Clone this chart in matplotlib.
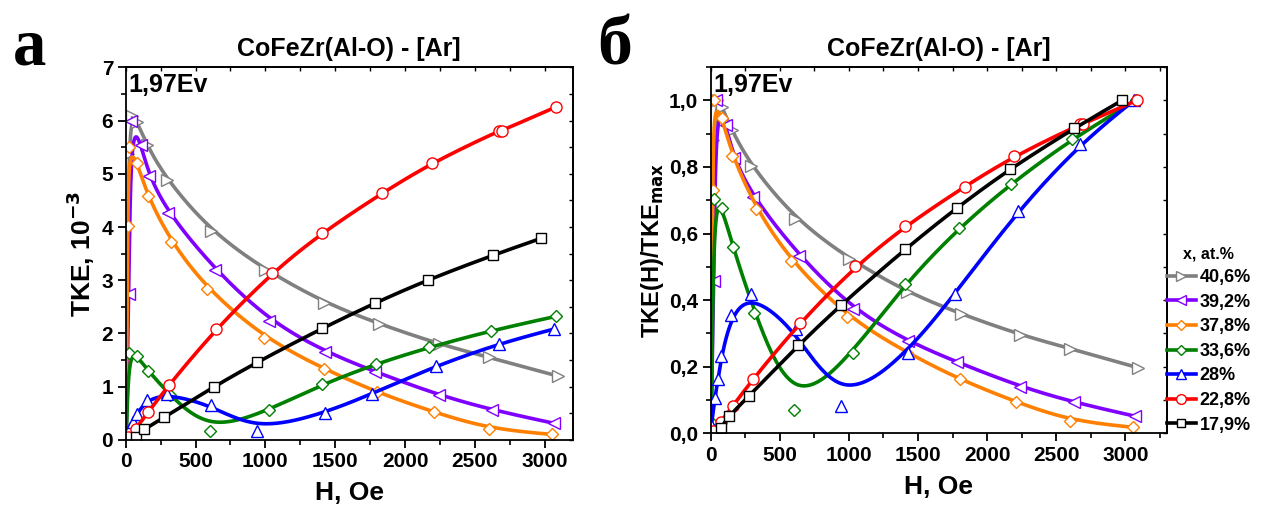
import numpy as np
import matplotlib
matplotlib.use("Agg")
import matplotlib.pyplot as plt
from matplotlib.ticker import MultipleLocator, FuncFormatter

# ---------------- data (TKE, 10^-3 vs H, Oe) ----------------
labels = ["40,6%", "39,2%", "37,8%", "33,6%", "28%", "22,8%", "17,9%"]

H_406 = [3, 19, 45, 84, 152, 293, 610, 1000, 1420, 1813, 2240, 2601, 3091]
T_406 = [0.05, 5.37, 6.09, 5.97, 5.54, 4.89, 3.92, 3.19, 2.58, 2.18, 1.80, 1.55, 1.20]

H_392 = [3, 22, 38, 110, 168, 305, 638, 1027, 1424, 1784, 2240, 2625, 3067]
T_392 = [0.05, 2.75, 6.00, 5.55, 4.96, 4.26, 3.20, 2.24, 1.66, 1.28, 0.84, 0.56, 0.31]

H_378 = [3, 15, 22, 83, 157, 328, 582, 988, 1420, 1800, 2205, 2597, 3053]
T_378 = [0.05, 4.02, 5.50, 5.21, 4.58, 3.71, 2.84, 1.92, 1.33, 0.89, 0.52, 0.21, 0.10]

H_336 = [5, 22, 83, 161, 316, 601, 1028, 1404, 1794, 2173, 2612, 3078]
T_336 = [0.08, 1.63, 1.57, 1.30, 0.84, 0.16, 0.56, 1.04, 1.43, 1.74, 2.05, 2.32]

H_280 = [5, 30, 54, 78, 150, 293, 614, 940, 1424, 1765, 2221, 2675, 3063]
T_280 = [0.05, 0.22, 0.34, 0.48, 0.74, 0.87, 0.65, 0.17, 0.50, 0.87, 1.39, 1.81, 2.08]

H_228 = [20, 73, 161, 309, 644, 1047, 1404, 1836, 2193, 2672, 2691, 3082]
T_228 = [0.05, 0.21, 0.52, 1.03, 2.08, 3.14, 3.89, 4.64, 5.21, 5.81, 5.81, 6.26]

H_179 = [73, 133, 275, 632, 940, 1408, 1782, 2163, 2627, 2976]
T_179 = [0.06, 0.20, 0.42, 1.00, 1.46, 2.10, 2.57, 3.01, 3.47, 3.79]

series_H = [H_406, H_392, H_378, H_336, H_280, H_228, H_179]
series_T = [T_406, T_392, T_378, T_336, T_280, T_228, T_179]

colors = ["#808080", "#8000ff", "#ff8000", "#008000", "#0000ff", "#ff0000", "#000000"]
markers = [">", "<", "D", "D", "^", "o", "s"]
msizes = [8, 8, 6.5, 6.5, 8, 8, 6.5]

title_txt = "CoFeZr(Al-O) - [Ar]"
energy_txt = "1,97Ev"

# ---------------- style ----------------
FAM = ["Liberation Sans Narrow", "Liberation Sans", "DejaVu Sans"]
plt.rcParams["font.family"] = FAM
plt.rcParams["font.weight"] = "bold"
plt.rcParams["axes.linewidth"] = 1.3


def bspline(x, y, n=40):
    P = np.column_stack([x, y]).astype(float)
    P = np.vstack([P[0], P[0], P, P[-1], P[-1]])
    t = np.linspace(0, 1, n)
    b0 = (1 - t) ** 3 / 6
    b1 = (3 * t ** 3 - 6 * t ** 2 + 4) / 6
    b2 = (-3 * t ** 3 + 3 * t ** 2 + 3 * t + 1) / 6
    b3 = t ** 3 / 6
    out = []
    for i in range(len(P) - 3):
        seg = (b0[:, None] * P[i] + b1[:, None] * P[i + 1]
               + b2[:, None] * P[i + 2] + b3[:, None] * P[i + 3])
        out.append(seg)
    C = np.vstack(out)
    return C[:, 0], C[:, 1]


fig = plt.figure(figsize=(12.63, 5.15), dpi=100)
axL = fig.add_axes([0.0995, 0.146, 0.354, 0.723])
axR = fig.add_axes([0.5627, 0.1586, 0.3612, 0.7112])

comma = FuncFormatter(lambda v, p: f"{v:.1f}".replace(".", ","))


def style_axes(ax, ymaj, ymin, fmt=None):
    ax.xaxis.set_major_locator(MultipleLocator(500))
    ax.xaxis.set_minor_locator(MultipleLocator(250))
    ax.yaxis.set_major_locator(MultipleLocator(ymaj))
    ax.yaxis.set_minor_locator(MultipleLocator(ymin))
    if fmt is not None:
        ax.yaxis.set_major_formatter(fmt)
    ax.tick_params(which="major", direction="out", length=6, width=1.3,
                   labelsize=15, pad=3)
    ax.tick_params(which="minor", direction="out", length=3.5, width=1.2)
    for lab in ax.get_xticklabels() + ax.get_yticklabels():
        lab.set_fontweight("bold")
    sx = ax.secondary_xaxis("top")
    sx.xaxis.set_major_locator(MultipleLocator(500))
    sx.xaxis.set_minor_locator(MultipleLocator(250))
    sx.tick_params(which="both", direction="in", length=3, width=1, labeltop=False)
    sy = ax.secondary_yaxis("right")
    sy.yaxis.set_major_locator(MultipleLocator(ymaj))
    sy.yaxis.set_minor_locator(MultipleLocator(ymin))
    sy.tick_params(which="both", direction="in", length=3, width=1, labelright=False)


handles = []
for Hs, Ts, c, m, ms, lab in zip(series_H, series_T, colors, markers, msizes, labels):
    Hs = np.asarray(Hs, float)
    Ts = np.asarray(Ts, float)
    for ax, vals in ((axL, Ts), (axR, Ts / Ts.max())):
        cx, cy = bspline(Hs, vals)
        ax.plot(cx, cy, color=c, lw=2.6, solid_capstyle="round")
        ax.plot(Hs, vals, ls="none", marker=m, ms=ms, mfc="white", mec=c, mew=1.0)
    h, = axR.plot([], [], color=c, lw=2.6, marker=m, ms=ms - 1, mfc="white", mec=c, mew=1.0)
    handles.append(h)

axL.set_xlim(0, 3200)
axL.set_ylim(0, 7)
axR.set_xlim(0, 3300)
axR.set_ylim(0, 1.1)

style_axes(axL, 1, 0.5)
style_axes(axR, 0.2, 0.1, comma)

axL.set_xlabel("H, Oe", fontsize=19, fontweight="bold", labelpad=7)
axR.set_xlabel("H, Oe", fontsize=19, fontweight="bold", labelpad=7)
axL.set_ylabel("TKE, 10$^{\\mathbf{-3}}$", fontsize=19, fontweight="bold", labelpad=3)
axR.set_ylabel("TKE(H)/TKE$_{\\mathbf{max}}$", fontsize=17, fontweight="bold", labelpad=2)

for ax in (axL, axR):
    ax.set_title(title_txt, fontsize=18, fontweight="bold", pad=8)
    ax.text(0.006, 0.985, energy_txt, transform=ax.transAxes, ha="left", va="top",
            fontsize=18, fontweight="bold")

fig.text(0.010, 0.875, "а", fontsize=48, fontweight="bold",
         family=["Liberation Serif", "DejaVu Serif"], ha="left", va="baseline")
fig.text(0.473, 0.875, "б", fontsize=50, fontweight="bold",
         family=["Liberation Serif", "DejaVu Serif"], ha="left", va="baseline")

leg = axR.legend(handles, labels, loc="upper left", bbox_to_anchor=(1.0, 0.51),
                 frameon=False, borderaxespad=0, borderpad=0, handlelength=1.6,
                 handletextpad=0.2, labelspacing=0.42, title="x, at.%",
                 prop={"weight": "bold", "size": 13})
leg.get_title().set_fontweight("bold")
leg.get_title().set_fontsize(11.5)

fig.savefig("out.png", dpi=100)
